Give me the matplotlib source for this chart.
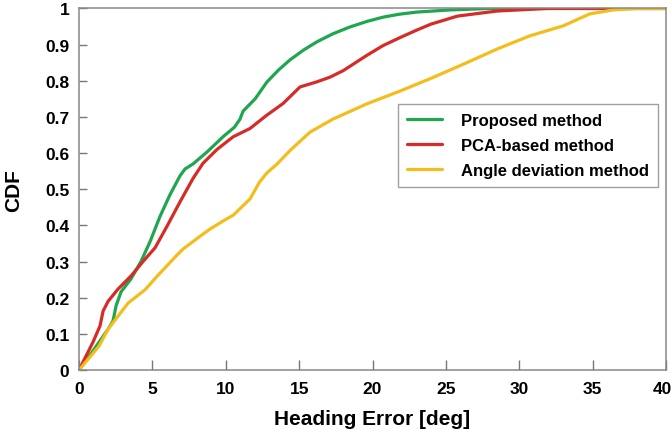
import matplotlib
matplotlib.use("Agg")
import matplotlib.pyplot as plt
from matplotlib.transforms import ScaledTranslation

plt.rcParams['font.family'] = ['Liberation Sans', 'DejaVu Sans']
plt.rcParams['font.weight'] = 'bold'

# Heading error [deg] and CDF values
prop_x = [0, 0.9, 1.98, 2.32, 2.52, 2.86, 3.54, 4.22, 4.84, 5.52, 6.2, 6.88, 7.22,
          7.77, 8.72, 9.81, 10.6, 10.97, 11.18, 12.0, 12.81, 13.6, 14.38, 15.3, 16.22,
          17.3, 18.47, 19.6, 20.72, 21.8, 23.0, 25.3, 28.0, 40.0]
prop_y = [0, 0.05, 0.113, 0.136, 0.177, 0.216, 0.252, 0.30, 0.355, 0.425, 0.485,
          0.537, 0.556, 0.57, 0.603, 0.645, 0.672, 0.694, 0.716, 0.75, 0.797, 0.83,
          0.858, 0.885, 0.908, 0.93, 0.949, 0.964, 0.976, 0.984, 0.99, 0.996, 1.0, 1.0]

pca_x = [0, 0.95, 1.43, 1.64, 1.98, 2.66, 3.54, 4.36, 5.18, 6.0, 6.88, 7.77, 8.45,
         9.4, 10.5, 11.65, 12.8, 13.9, 15.06, 16.2, 17.1, 18.0, 19.6, 20.7, 21.9,
         23.0, 24.0, 25.8, 28.5, 31.9, 40.0]
pca_y = [0, 0.077, 0.122, 0.163, 0.19, 0.224, 0.26, 0.30, 0.338, 0.398, 0.465,
         0.53, 0.572, 0.61, 0.645, 0.668, 0.705, 0.737, 0.783, 0.797, 0.81, 0.828,
         0.87, 0.897, 0.92, 0.94, 0.957, 0.979, 0.993, 1.0, 1.0]

ang_x = [0, 1.36, 1.98, 3.34, 4.5, 5.38, 6.68, 7.1, 8.25, 8.93, 9.81, 10.5, 11.65,
         12.3, 12.8, 13.5, 14.4, 15.74, 17.3, 19.6, 21.9, 24.0, 26.2, 28.5, 30.7,
         33.0, 34.8, 36.4, 38.0, 40.0]
ang_y = [0, 0.066, 0.113, 0.185, 0.222, 0.262, 0.318, 0.335, 0.37, 0.39, 0.412,
         0.428, 0.473, 0.52, 0.545, 0.57, 0.608, 0.658, 0.694, 0.736, 0.772, 0.807,
         0.846, 0.888, 0.924, 0.952, 0.985, 0.996, 1.0, 1.0]

labels = ["Proposed method", "PCA-based method", "Angle deviation method"]
colors = ["#1fa64e", "#d62b27", "#f5bd1c"]

xticks = [0, 5, 10, 15, 20, 25, 30, 35, 40]
yticks = [0, 0.1, 0.2, 0.3, 0.4, 0.5, 0.6, 0.7, 0.8, 0.9, 1]
ytick_labels = ["0", "0.1", "0.2", "0.3", "0.4", "0.5", "0.6", "0.7", "0.8", "0.9", "1"]

fig = plt.figure(figsize=(6.72, 4.31), dpi=100)
ax = fig.add_axes([0.1176, 0.1392, 0.8735, 0.8388])

for xs, ys, lab, c in zip([prop_x, pca_x, ang_x], [prop_y, pca_y, ang_y], labels, colors):
    ax.plot(xs, ys, color=c, lw=2.3, label=lab, solid_joinstyle='round',
            solid_capstyle='round')

ax.set_xlim(0, 40)
ax.set_ylim(0, 1)
ax.set_xticks(xticks)
ax.set_xticklabels([str(t) for t in xticks])
ax.set_yticks(yticks)
ax.set_yticklabels(ytick_labels)

for s in ax.spines.values():
    s.set_color("#888888")
    s.set_linewidth(1.1)

ax.tick_params(axis='x', direction='in', length=7.5, width=1.0, color="#777777",
               pad=8, labelsize=12.5)
ax.tick_params(axis='y', direction='in', length=6, width=1.0, color="#777777",
               pad=7, labelsize=12.5)
for t in ax.get_xticklabels() + ax.get_yticklabels():
    t.set_fontweight('bold')

# keep the last x tick label inside the figure
last = ax.get_xticklabels()[-1]
last.set_transform(last.get_transform() + ScaledTranslation(-4 / 100, 0, fig.dpi_scale_trans))

ax.set_xlabel("Heading Error [deg]", fontsize=15, fontweight='bold', labelpad=9)
ax.set_ylabel("CDF", fontsize=15, fontweight='bold', labelpad=16)

leg = ax.legend(loc='upper right', bbox_to_anchor=(0.986, 0.736), borderaxespad=0,
                frameon=True, fancybox=False, edgecolor="#888888",
                handlelength=2.1, handletextpad=1.1, labelspacing=0.6,
                borderpad=0.55, prop={'weight': 'bold', 'size': 12})
leg.get_frame().set_linewidth(1.0)

fig.savefig("out.png", dpi=100)
